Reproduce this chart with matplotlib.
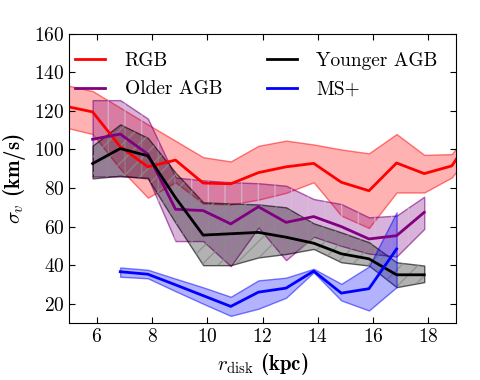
import numpy as np
import matplotlib
matplotlib.use('Agg')
import matplotlib.pyplot as plt

plt.rcParams['mathtext.fontset'] = 'cm'
plt.rcParams['font.family'] = ['cmr10', 'DejaVu Serif']
plt.rcParams['axes.formatter.use_mathtext'] = True
plt.rcParams['hatch.linewidth'] = 1.0

# radial bins (kpc)
r_rgb = [4.85, 5.85, 6.85, 7.85, 8.85, 9.85, 10.85, 11.85, 12.85, 13.85, 14.85, 15.85, 16.85, 17.85, 18.85, 19.85]
rgb = [122.5, 119.5, 101.5, 91, 94.5, 82.6, 82.2, 88, 91, 92.8, 83, 78.6, 93, 87.5, 91.5, 113]
rgb_hi = [133.5, 130.3, 121.7, 113, 104.5, 96, 93.8, 101.9, 104.6, 102.6, 100, 98, 108, 97.2, 97.6, 117]
rgb_lo = [111.5, 108, 90, 75, 83, 72, 71.5, 74, 77.5, 83, 65.7, 59.3, 77.7, 77.7, 85.5, 104]

r_agb = [5.85, 6.85, 7.85, 8.85, 9.85, 10.85, 11.85, 12.85, 13.85, 14.85, 15.85, 16.85, 17.85]
old_agb = [105.3, 108, 97.6, 69, 68.3, 61.4, 70.3, 62.2, 65.2, 60, 53.6, 55.3, 67.4]
old_hi = [125.6, 125.6, 116, 85.5, 84, 83, 82.5, 81.2, 74.3, 71.7, 64.8, 65.7, 75.5]
old_lo = [86, 86, 85.5, 52.5, 52.5, 39.5, 59.6, 42.6, 54.8, 50, 46, 44.5, 58.8]

young_agb = [92.7, 100.5, 96.7, 75, 55.6, 56.3, 57, 54.5, 51.4, 45.9, 43.3, 35, 35]
young_hi = [102, 113, 106, 88, 72.6, 72, 71.5, 70, 61.7, 57, 51.9, 41.5, 39.8]
young_lo = [85, 86.4, 85, 62, 40, 40, 44, 45.8, 48.4, 41.5, 39.8, 28.6, 31.2]

r_ms = [6.85, 7.85, 8.85, 9.85, 10.85, 11.85, 12.85, 13.85, 14.85, 15.85, 16.85]
ms = [36.6, 35.3, 29.8, 24.2, 18.6, 26, 28.1, 36.9, 25.5, 27.8, 48.4]
ms_hi = [38.8, 37.6, 33, 28.5, 23.6, 32.1, 33.5, 38.1, 30.3, 39.3, 67.4]
ms_lo = [34, 33.2, 26.5, 20, 13.7, 17.4, 23.1, 36.3, 21.7, 16.5, 28.6]

fig = plt.figure(figsize=(4.8, 3.8), dpi=100)
ax = fig.add_axes([0.144, 0.15, 0.806, 0.761])

# bands
ax.fill_between(r_rgb, rgb_lo, rgb_hi, facecolor=(1, 0, 0, 0.3), edgecolor=(1, 0, 0, 0.5), lw=1)
ax.fill_between(r_agb, old_lo, old_hi, facecolor=(0.5, 0, 0.5, 0.3), edgecolor=(0.5, 0, 0.5, 0.6), lw=1)
ax.fill_between(r_agb, old_lo, old_hi, facecolor='none', edgecolor=(0.85, 0.75, 0.85, 0.7), hatch='|', lw=0)
ax.fill_between(r_agb, young_lo, young_hi, facecolor=(0, 0, 0, 0.3), edgecolor=(0, 0, 0, 0.6), lw=1)
ax.fill_between(r_agb, young_lo, young_hi, facecolor='none', edgecolor=(0.55, 0.55, 0.55, 0.8), hatch='//', lw=0)
ax.fill_between(r_ms, ms_lo, ms_hi, facecolor=(0, 0, 1, 0.3), edgecolor=(0, 0, 1, 0.5), lw=1)

ax.plot(r_rgb, rgb, color='red', lw=2, label='RGB')
ax.plot(r_agb, old_agb, color='purple', lw=2, label='Older AGB')
ax.plot(r_agb, young_agb, color='black', lw=2, label='Younger AGB')
ax.plot(r_ms, ms, color='blue', lw=2, label='MS+')

ax.set_xlim(5, 19)
ax.set_ylim(10, 160)
ax.set_xticks([6, 8, 10, 12, 14, 16, 18])
ax.set_yticks([20, 40, 60, 80, 100, 120, 140, 160])
ax.tick_params(direction='in', top=True, right=True, length=4, labelsize=14)

ax.set_xlabel(r'$r_{\rm disk}$ (kpc)', family='cmb10', fontsize=15)
ax.set_ylabel(r'$\sigma_v$ (km/s)', family='cmb10', fontsize=15)

ax.legend(loc='upper left', bbox_to_anchor=(-0.005, 0.965), ncol=2, frameon=False, fontsize=14,
          handlelength=1.55, handletextpad=1.0, columnspacing=2.3, labelspacing=0.55,
          borderaxespad=0.1, borderpad=0.3)

fig.savefig('out.png', dpi=100)
